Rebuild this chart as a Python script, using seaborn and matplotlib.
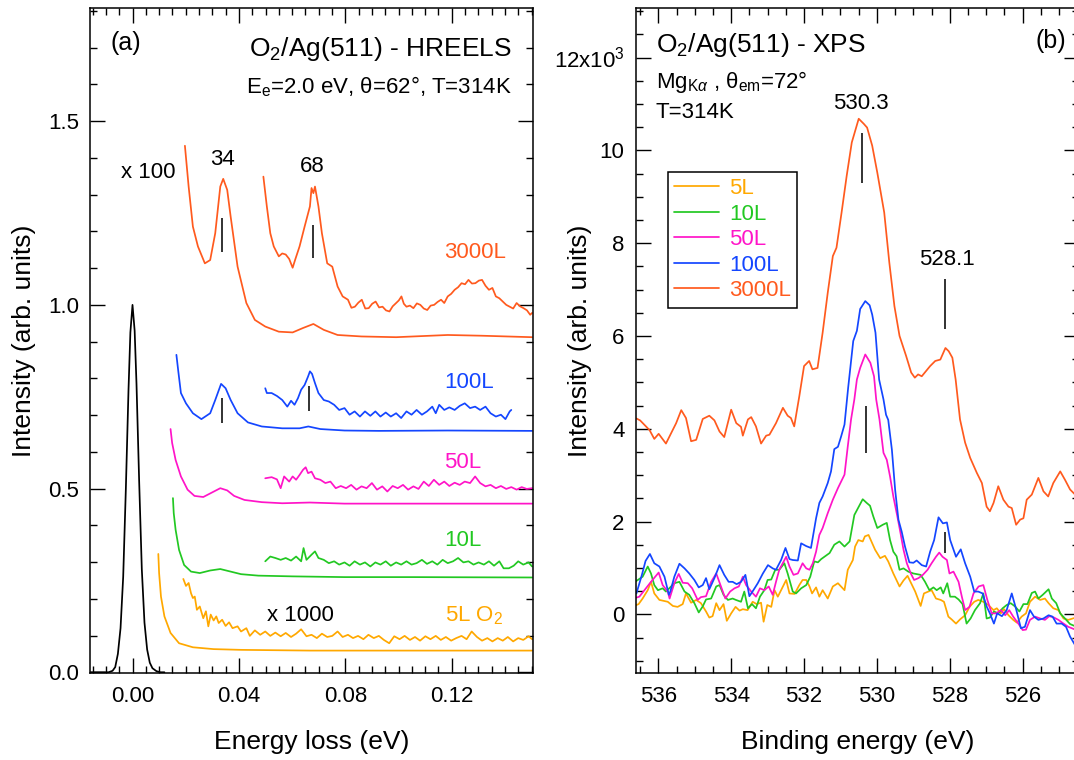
import numpy as np
import pandas as pd
import matplotlib
matplotlib.use("Agg")
import matplotlib.pyplot as plt
from matplotlib.ticker import MultipleLocator, FixedLocator, FixedFormatter, FormatStrFormatter
import seaborn as sns

# ---------------- HREELS spectra, (energy loss [eV], intensity) ----------------
elastic = [(-0.0160, 0.000), (-0.0090, 0.000), (-0.0075, 0.004), (-0.0065, 0.014), (-0.0055, 0.050),
           (-0.0045, 0.120), (-0.0035, 0.260), (-0.0025, 0.500), (-0.0015, 0.770), (-0.0008, 0.925),
           (0.0000, 1.000), (0.0008, 0.930), (0.0015, 0.785), (0.0025, 0.520), (0.0035, 0.280),
           (0.0045, 0.135), (0.0055, 0.062), (0.0065, 0.026), (0.0075, 0.011), (0.0090, 0.003),
           (0.0105, 0.000), (0.0120, 0.000)]

l3000_x100 = [(0.0197, 1.433), (0.0211, 1.322), (0.0227, 1.213), (0.0246, 1.159), (0.0272, 1.113),
              (0.0292, 1.122), (0.0311, 1.195), (0.0330, 1.322), (0.0341, 1.343), (0.0356, 1.313),
              (0.0369, 1.240), (0.0395, 1.104), (0.0428, 1.005), (0.0460, 0.959), (0.0499, 0.941),
              (0.0550, 0.927), (0.0602, 0.925), (0.0641, 0.937), (0.0680, 0.948), (0.0719, 0.932),
              (0.0771, 0.918), (0.0861, 0.914), (0.0991, 0.912), (0.1185, 0.918), (0.1314, 0.916),
              (0.1502, 0.912)]

l3000_x1000 = [(0.0492, 1.349), (0.0505, 1.268), (0.0518, 1.195), (0.0531, 1.159), (0.0550, 1.132),
               (0.0563, 1.140), (0.0576, 1.137), (0.0589, 1.125), (0.0602, 1.101), (0.0612, 1.124),
               (0.0628, 1.159), (0.0647, 1.213), (0.0667, 1.268), (0.0673, 1.318), (0.0680, 1.304),
               (0.0686, 1.322), (0.0699, 1.268), (0.0712, 1.195), (0.0732, 1.113), (0.0751, 1.104),
               (0.0771, 1.050), (0.0790, 1.023), (0.0810, 1.014), (0.0823, 0.992), (0.0836, 0.995),
               (0.0849, 1.006), (0.0862, 1.014), (0.0875, 0.990), (0.0888, 0.991), (0.0901, 1.003),
               (0.0914, 1.009), (0.0927, 0.993), (0.0940, 0.995), (0.0953, 0.985), (0.0966, 0.982),
               (0.0978, 0.996), (0.0991, 1.005), (0.1001, 1.012), (0.1011, 1.023), (0.1020, 1.003),
               (0.1030, 0.995), (0.1043, 0.998), (0.1056, 0.991), (0.1069, 1.004), (0.1082, 1.000),
               (0.1095, 0.990), (0.1108, 0.986), (0.1121, 0.998), (0.1134, 1.000), (0.1147, 1.008),
               (0.1160, 1.014), (0.1172, 1.005), (0.1185, 1.023), (0.1198, 1.030), (0.1211, 1.041),
               (0.1224, 1.048), (0.1237, 1.059), (0.1250, 1.056), (0.1263, 1.068), (0.1276, 1.058),
               (0.1289, 1.059), (0.1302, 1.066), (0.1314, 1.068), (0.1327, 1.052), (0.1340, 1.041),
               (0.1353, 1.046), (0.1366, 1.023), (0.1379, 1.018), (0.1392, 1.009), (0.1405, 1.000),
               (0.1418, 0.995), (0.1431, 0.990), (0.1444, 1.005), (0.1457, 0.996), (0.1470, 0.991),
               (0.1483, 0.985), (0.1495, 0.973), (0.1502, 0.978)]

l100_x100 = [(0.0165, 0.864), (0.0172, 0.820), (0.0182, 0.760), (0.0201, 0.732), (0.0227, 0.705),
             (0.0259, 0.689), (0.0292, 0.705), (0.0311, 0.741), (0.0333, 0.785), (0.0350, 0.773),
             (0.0369, 0.741), (0.0395, 0.705), (0.0434, 0.680), (0.0486, 0.669), (0.0563, 0.664),
             (0.0628, 0.664), (0.0661, 0.669), (0.0706, 0.662), (0.0797, 0.658), (0.0926, 0.657),
             (0.1185, 0.658), (0.1502, 0.657)]

l100_x1000 = [(0.0499, 0.773), (0.0505, 0.760), (0.0523, 0.760), (0.0543, 0.752), (0.0563, 0.741),
              (0.0582, 0.723), (0.0596, 0.739), (0.0609, 0.728), (0.0622, 0.746), (0.0634, 0.769),
              (0.0647, 0.782), (0.0660, 0.805), (0.0667, 0.819), (0.0675, 0.812), (0.0686, 0.787),
              (0.0699, 0.760), (0.0719, 0.741), (0.0738, 0.737), (0.0758, 0.728), (0.0777, 0.714),
              (0.0797, 0.719), (0.0816, 0.701), (0.0835, 0.710), (0.0855, 0.696), (0.0874, 0.710),
              (0.0894, 0.698), (0.0913, 0.710), (0.0932, 0.696), (0.0952, 0.707), (0.0971, 0.696),
              (0.0991, 0.705), (0.1010, 0.692), (0.1030, 0.710), (0.1049, 0.701), (0.1068, 0.714),
              (0.1088, 0.701), (0.1107, 0.710), (0.1127, 0.723), (0.1140, 0.705), (0.1153, 0.728),
              (0.1172, 0.714), (0.1191, 0.721), (0.1211, 0.714), (0.1230, 0.725), (0.1249, 0.732),
              (0.1269, 0.719), (0.1288, 0.723), (0.1307, 0.714), (0.1327, 0.723), (0.1346, 0.705),
              (0.1366, 0.696), (0.1385, 0.701), (0.1402, 0.689), (0.1418, 0.710), (0.1424, 0.714)]

l50_x100 = [(0.0143, 0.662), (0.0149, 0.624), (0.0162, 0.578), (0.0182, 0.533), (0.0207, 0.497),
            (0.0233, 0.480), (0.0266, 0.477), (0.0298, 0.489), (0.0330, 0.501), (0.0356, 0.495),
            (0.0382, 0.480), (0.0421, 0.469), (0.0486, 0.463), (0.0563, 0.460), (0.0667, 0.462),
            (0.0797, 0.459), (0.1056, 0.459), (0.1502, 0.459)]

l50_x1000 = [(0.0499, 0.528), (0.0523, 0.531), (0.0543, 0.525), (0.0557, 0.501), (0.0570, 0.533),
             (0.0589, 0.519), (0.0602, 0.533), (0.0615, 0.524), (0.0628, 0.537), (0.0641, 0.551),
             (0.0651, 0.558), (0.0660, 0.542), (0.0673, 0.546), (0.0686, 0.528), (0.0706, 0.524),
             (0.0725, 0.515), (0.0744, 0.519), (0.0764, 0.501), (0.0783, 0.507), (0.0803, 0.501),
             (0.0822, 0.510), (0.0842, 0.497), (0.0861, 0.506), (0.0880, 0.501), (0.0900, 0.515),
             (0.0919, 0.497), (0.0939, 0.506), (0.0958, 0.492), (0.0978, 0.507), (0.0997, 0.501),
             (0.1017, 0.510), (0.1036, 0.497), (0.1056, 0.506), (0.1075, 0.499), (0.1095, 0.519),
             (0.1114, 0.507), (0.1133, 0.524), (0.1153, 0.510), (0.1172, 0.519), (0.1191, 0.507),
             (0.1211, 0.516), (0.1230, 0.510), (0.1249, 0.519), (0.1269, 0.515), (0.1288, 0.533),
             (0.1307, 0.515), (0.1327, 0.506), (0.1346, 0.510), (0.1366, 0.501), (0.1385, 0.507),
             (0.1405, 0.499), (0.1424, 0.504), (0.1444, 0.497), (0.1463, 0.504), (0.1482, 0.499),
             (0.1502, 0.501)]

l10_x100 = [(0.0152, 0.474), (0.0155, 0.433), (0.0162, 0.388), (0.0175, 0.333), (0.0194, 0.292),
            (0.0220, 0.274), (0.0253, 0.270), (0.0292, 0.277), (0.0330, 0.281), (0.0369, 0.274),
            (0.0408, 0.267), (0.0473, 0.263), (0.0602, 0.261), (0.0797, 0.259), (0.1056, 0.259),
            (0.1502, 0.258)]

l10_x1000 = [(0.0499, 0.302), (0.0518, 0.315), (0.0537, 0.311), (0.0557, 0.306), (0.0576, 0.311),
             (0.0596, 0.304), (0.0615, 0.315), (0.0634, 0.302), (0.0643, 0.338), (0.0654, 0.306),
             (0.0673, 0.320), (0.0686, 0.329), (0.0699, 0.311), (0.0719, 0.306), (0.0738, 0.297),
             (0.0758, 0.302), (0.0777, 0.293), (0.0797, 0.299), (0.0816, 0.290), (0.0835, 0.302),
             (0.0855, 0.293), (0.0874, 0.299), (0.0894, 0.288), (0.0913, 0.299), (0.0932, 0.293),
             (0.0952, 0.302), (0.0971, 0.290), (0.0991, 0.299), (0.1010, 0.293), (0.1030, 0.302),
             (0.1049, 0.293), (0.1068, 0.297), (0.1088, 0.306), (0.1107, 0.295), (0.1127, 0.302),
             (0.1146, 0.293), (0.1166, 0.306), (0.1185, 0.297), (0.1205, 0.302), (0.1224, 0.311),
             (0.1244, 0.299), (0.1263, 0.302), (0.1282, 0.293), (0.1301, 0.299), (0.1321, 0.293),
             (0.1340, 0.302), (0.1359, 0.290), (0.1379, 0.302), (0.1395, 0.283), (0.1415, 0.283),
             (0.1433, 0.290), (0.1450, 0.302), (0.1469, 0.293), (0.1489, 0.299), (0.1502, 0.288)]

l5_x100 = [(0.0097, 0.322), (0.0100, 0.270), (0.0107, 0.206), (0.0120, 0.152), (0.0143, 0.107),
           (0.0175, 0.079), (0.0227, 0.068), (0.0305, 0.063), (0.0408, 0.061), (0.0667, 0.059),
           (0.1056, 0.059), (0.1502, 0.059)]

l5_x1000 = [(0.0191, 0.254), (0.0201, 0.235), (0.0211, 0.243), (0.0220, 0.215), (0.0227, 0.202),
            (0.0234, 0.206), (0.0242, 0.170), (0.0253, 0.179), (0.0266, 0.147), (0.0276, 0.166),
            (0.0285, 0.125), (0.0294, 0.157), (0.0305, 0.141), (0.0315, 0.152), (0.0324, 0.134),
            (0.0337, 0.143), (0.0350, 0.126), (0.0363, 0.136), (0.0376, 0.120), (0.0395, 0.125),
            (0.0408, 0.111), (0.0428, 0.120), (0.0441, 0.099), (0.0460, 0.114), (0.0480, 0.102),
            (0.0499, 0.111), (0.0518, 0.099), (0.0537, 0.108), (0.0557, 0.098), (0.0576, 0.107),
            (0.0596, 0.096), (0.0615, 0.105), (0.0634, 0.117), (0.0654, 0.098), (0.0673, 0.102),
            (0.0693, 0.093), (0.0712, 0.105), (0.0732, 0.096), (0.0751, 0.099), (0.0771, 0.111),
            (0.0790, 0.096), (0.0810, 0.102), (0.0829, 0.093), (0.0848, 0.099), (0.0868, 0.090),
            (0.0887, 0.102), (0.0907, 0.093), (0.0926, 0.099), (0.0945, 0.088), (0.0965, 0.079),
            (0.0984, 0.098), (0.1004, 0.090), (0.1023, 0.099), (0.1043, 0.088), (0.1062, 0.096),
            (0.1081, 0.086), (0.1101, 0.098), (0.1120, 0.090), (0.1140, 0.099), (0.1159, 0.088),
            (0.1178, 0.096), (0.1198, 0.086), (0.1217, 0.093), (0.1237, 0.099), (0.1256, 0.090),
            (0.1275, 0.111), (0.1295, 0.096), (0.1314, 0.086), (0.1334, 0.093), (0.1353, 0.084),
            (0.1373, 0.093), (0.1392, 0.086), (0.1411, 0.096), (0.1431, 0.084), (0.1450, 0.093),
            (0.1469, 0.088), (0.1489, 0.098), (0.1502, 0.090)]

# ---------------- O 1s XPS spectra, (binding energy [eV], counts / 1e3) ----------------
xps_5L = [(536.60, 0.20), (536.54, 0.22), (536.43, 0.34), (536.29, 0.52), (536.20, 0.70), (536.11, 0.45),
          (535.97, 0.31), (535.74, 0.27), (535.60, 0.18), (535.47, 0.16), (535.33, 0.22), (535.24, 0.45),
          (535.10, 0.25), (534.96, 0.31), (534.83, 0.24), (534.69, 0.06), (534.60, -0.07), (534.51, -0.04),
          (534.41, 0.24), (534.32, 0.09), (534.21, 0.22), (534.12, -0.14), (534.00, 0.02), (533.88, 0.16),
          (533.77, 0.08), (533.68, 0.11), (533.55, 0.09), (533.41, 0.27), (533.30, 0.22), (533.18, 0.25),
          (533.11, -0.16), (533.01, 0.20), (532.90, 0.16), (532.81, 0.52), (532.72, 0.38), (532.63, 0.52),
          (532.49, 0.74), (532.40, 0.45), (532.26, 0.44), (532.13, 0.63), (532.04, 0.74), (531.94, 0.74),
          (531.85, 0.60), (531.78, 0.45), (531.67, 0.58), (531.58, 0.38), (531.49, 0.52), (531.35, 0.34),
          (531.21, 0.60), (531.07, 0.67), (530.89, 0.52), (530.80, 0.96), (530.66, 1.17), (530.60, 1.46),
          (530.51, 1.60), (530.39, 1.57), (530.33, 1.68), (530.23, 1.71), (530.14, 1.55), (530.05, 1.39),
          (529.91, 1.21), (529.78, 1.26), (529.69, 1.14), (529.55, 0.88), (529.38, 0.60), (529.27, 0.73),
          (529.16, 0.83), (528.95, 0.49), (528.80, 0.18), (528.71, 0.45), (528.59, 0.49), (528.50, 0.52),
          (528.38, 0.34), (528.25, 0.31), (528.16, 0.27), (528.04, -0.05), (527.95, -0.11), (527.83, -0.20),
          (527.72, -0.11), (527.58, -0.02), (527.46, 0.16), (527.33, 0.27), (527.22, 0.31), (527.08, 0.27),
          (526.94, 0.20), (526.80, 0.09), (526.71, 0.13), (526.60, 0.02), (526.51, 0.11), (526.39, -0.02),
          (526.26, -0.12), (526.16, -0.18), (526.03, -0.05), (525.91, 0.02), (525.80, 0.27), (525.66, 0.38),
          (525.52, 0.31), (525.39, 0.34), (525.29, 0.24), (525.16, 0.13), (525.02, 0.09), (524.88, -0.09),
          (524.75, -0.12), (524.46, -0.05)]

xps_10L = [(536.60, 0.72), (536.43, 0.81), (536.29, 1.03), (536.20, 0.88), (536.11, 0.63), (536.01, 0.52),
           (535.88, 0.56), (535.79, 0.49), (535.56, 0.67), (535.42, 0.70), (535.28, 0.49), (535.15, 0.42),
           (535.01, 0.24), (534.89, 0.04), (534.78, 0.17), (534.69, 0.32), (534.55, 0.34), (534.41, 0.60),
           (534.32, 0.63), (534.21, 0.42), (534.09, 0.31), (533.96, 0.34), (533.87, 0.31), (533.73, 0.27),
           (533.64, 0.49), (533.54, 0.13), (533.43, 0.22), (533.32, 0.13), (533.21, 0.38), (533.09, 0.52),
           (533.00, 0.74), (532.90, 0.75), (532.79, 0.96), (532.68, 0.96), (532.54, 1.10), (532.45, 0.88),
           (532.31, 0.49), (532.22, 0.45), (532.08, 0.56), (531.94, 0.63), (531.83, 0.81), (531.72, 1.14),
           (531.62, 1.12), (531.53, 1.19), (531.30, 1.32), (531.17, 1.50), (531.03, 1.57), (530.89, 1.46),
           (530.75, 1.57), (530.62, 2.14), (530.39, 2.48), (530.28, 2.40), (530.19, 2.34), (530.10, 2.11),
           (529.99, 1.86), (529.84, 1.93), (529.73, 1.97), (529.64, 1.60), (529.55, 1.35), (529.46, 1.25),
           (529.38, 0.96), (529.27, 0.99), (529.14, 0.92), (529.00, 0.88), (528.80, 0.85), (528.68, 0.70),
           (528.56, 0.52), (528.45, 0.58), (528.36, 0.52), (528.25, 0.58), (528.18, 0.45), (528.07, 0.67),
           (527.99, 0.38), (527.86, 0.38), (527.76, 0.32), (527.65, 0.22), (527.54, -0.20), (527.43, -0.09),
           (527.31, 0.09), (527.17, 0.24), (527.08, 0.45), (526.99, -0.09), (526.90, -0.07), (526.79, 0.06),
           (526.67, 0.02), (526.55, 0.13), (526.44, 0.20), (526.33, 0.24), (526.21, 0.17), (526.09, 0.06),
           (525.98, 0.22), (525.87, 0.22), (525.75, 0.46), (525.66, 0.49), (525.57, 0.34), (525.45, 0.42),
           (525.29, 0.54), (525.20, 0.34), (525.08, 0.24), (524.97, 0.02), (524.84, -0.09), (524.70, -0.21),
           (524.46, -0.29)]

xps_50L = [(536.60, 0.36), (536.52, 0.38), (536.38, 0.52), (536.20, 0.70), (535.99, 0.90), (535.88, 0.63),
           (535.74, 0.49), (535.69, 0.34), (535.56, 0.67), (535.44, 0.87), (535.33, 0.68), (535.19, 0.67),
           (535.07, 0.56), (534.92, 0.31), (534.83, 0.37), (534.69, 0.39), (534.55, 0.70), (534.41, 0.88),
           (534.28, 0.60), (534.16, 0.34), (534.03, 0.49), (533.91, 0.56), (533.79, 0.60), (533.68, 0.81),
           (533.59, 0.63), (533.45, 0.49), (533.32, 0.38), (533.21, 0.56), (533.09, 0.52), (532.97, 0.60),
           (532.86, 0.42), (532.77, 0.70), (532.68, 0.96), (532.49, 1.24), (532.40, 1.03), (532.29, 0.85),
           (532.17, 0.88), (532.04, 1.10), (531.94, 0.99), (531.85, 0.96), (531.76, 1.10), (531.67, 1.35),
           (531.58, 1.71), (531.49, 1.86), (531.35, 2.18), (531.21, 2.47), (531.07, 2.72), (530.89, 3.01),
           (530.80, 3.62), (530.71, 4.20), (530.62, 4.63), (530.55, 5.06), (530.46, 5.31), (530.32, 5.60),
           (530.18, 5.42), (530.08, 5.13), (530.02, 4.63), (529.93, 4.20), (529.82, 3.48), (529.73, 3.33),
           (529.64, 2.97), (529.55, 2.54), (529.44, 2.11), (529.36, 1.78), (529.27, 1.39), (529.18, 1.10),
           (529.07, 0.88), (528.98, 0.74), (528.86, 0.78), (528.74, 0.85), (528.61, 0.96), (528.50, 1.10),
           (528.38, 1.24), (528.29, 1.33), (528.20, 1.24), (528.08, 1.17), (528.01, 0.88), (527.90, 0.92),
           (527.76, 0.70), (527.67, 0.38), (527.58, 0.09), (527.46, 0.16), (527.35, 0.45), (527.21, 0.60),
           (527.08, 0.63), (526.97, 0.31), (526.85, 0.02), (526.73, 0.02), (526.60, 0.09), (526.48, -0.02),
           (526.37, 0.09), (526.26, -0.05), (526.12, -0.20), (526.00, -0.34), (525.91, -0.33), (525.80, -0.12),
           (525.66, -0.05), (525.52, -0.09), (525.39, -0.12), (525.27, -0.04), (525.14, -0.07), (525.02, -0.12),
           (524.88, -0.20), (524.75, -0.27), (524.46, -0.36)]

xps_100L = [(536.60, 0.45), (536.45, 0.85), (536.35, 1.15), (536.23, 1.30), (536.11, 1.10), (535.97, 1.03),
            (535.83, 0.81), (535.71, 0.42), (535.67, 0.49), (535.56, 0.81), (535.42, 1.09), (535.28, 0.99),
            (535.15, 0.88), (535.01, 0.74), (534.89, 0.58), (534.78, 0.63), (534.69, 0.78), (534.60, 0.54),
            (534.46, 0.78), (534.32, 1.06), (534.19, 0.85), (534.07, 0.70), (533.96, 0.70), (533.85, 0.65),
            (533.73, 0.70), (533.61, 0.85), (533.50, 0.39), (533.39, 0.52), (533.27, 0.67), (533.13, 0.88),
            (532.99, 1.06), (532.86, 0.99), (532.77, 0.96), (532.63, 1.17), (532.51, 1.43), (532.40, 1.19),
            (532.31, 1.17), (532.17, 1.16), (532.08, 1.53), (531.94, 1.47), (531.81, 1.43), (531.67, 2.07),
            (531.58, 2.40), (531.49, 2.54), (531.35, 2.83), (531.26, 3.08), (531.17, 3.56), (531.07, 3.61),
            (530.98, 3.84), (530.89, 4.09), (530.79, 4.88), (530.65, 5.89), (530.55, 6.11), (530.46, 6.58),
            (530.32, 6.75), (530.20, 6.66), (530.13, 6.46), (530.04, 6.07), (529.94, 5.06), (529.82, 4.63),
            (529.75, 4.30), (529.69, 4.19), (529.59, 3.55), (529.50, 2.68), (529.41, 2.04), (529.32, 1.78),
            (529.23, 1.46), (529.11, 1.12), (529.00, 1.11), (528.91, 1.16), (528.77, 1.06), (528.65, 1.03),
            (528.54, 1.35), (528.43, 1.60), (528.31, 2.09), (528.19, 1.96), (528.08, 1.98), (527.99, 1.60),
            (527.83, 1.24), (527.70, 1.40), (527.58, 1.10), (527.44, 0.81), (527.33, 0.49), (527.22, 0.49),
            (527.10, 0.45), (526.99, 0.17), (526.90, 0.02), (526.79, -0.20), (526.70, 0.02), (526.57, -0.04),
            (526.44, 0.09), (526.30, 0.45), (526.18, 0.11), (526.05, -0.30), (525.94, -0.27), (525.80, 0.09),
            (525.69, -0.05), (525.57, -0.12), (525.43, -0.09), (525.29, -0.02), (525.18, -0.05), (525.07, -0.20),
            (524.93, -0.20), (524.81, -0.27), (524.70, -0.48), (524.46, -0.80)]

xps_3000L = [(536.60, 4.22), (536.50, 4.18), (536.24, 3.97), (536.11, 3.78), (535.99, 3.89), (535.79, 3.68),
             (535.51, 4.12), (535.37, 4.40), (535.24, 4.23), (535.10, 3.73), (534.96, 3.76), (534.78, 4.21),
             (534.60, 4.28), (534.46, 4.18), (534.32, 3.94), (534.19, 3.82), (534.00, 4.41), (533.86, 4.12),
             (533.73, 4.04), (533.68, 3.85), (533.54, 4.20), (533.45, 4.25), (533.32, 4.05), (533.18, 3.68),
             (533.04, 3.85), (532.95, 3.87), (532.77, 4.12), (532.58, 4.45), (532.45, 4.28), (532.36, 4.23),
             (532.27, 4.05), (532.13, 4.70), (532.00, 5.35), (531.86, 5.46), (531.77, 5.28), (531.63, 5.31),
             (531.49, 6.07), (531.35, 6.93), (531.21, 7.72), (531.11, 7.90), (530.97, 8.66), (530.83, 9.45),
             (530.69, 10.17), (530.50, 10.68), (530.36, 10.57), (530.27, 10.49), (530.13, 10.10), (529.99, 9.52),
             (529.80, 8.66), (529.66, 7.58), (529.52, 6.64), (529.38, 6.00), (529.20, 5.57), (529.06, 5.21),
             (528.96, 5.10), (528.87, 5.17), (528.77, 5.13), (528.54, 5.35), (528.40, 5.46), (528.26, 5.49),
             (528.12, 5.74), (528.03, 5.67), (527.93, 5.53), (527.84, 5.06), (527.72, 4.20), (527.58, 3.70),
             (527.44, 3.37), (527.26, 3.05), (527.12, 2.83), (526.99, 2.32), (526.90, 2.22), (526.80, 2.40),
             (526.67, 2.76), (526.53, 2.47), (526.39, 2.32), (526.30, 2.29), (526.18, 1.93), (526.07, 2.04),
             (525.98, 2.07), (525.89, 2.47), (525.75, 2.58), (525.57, 2.94), (525.43, 2.65), (525.30, 2.54),
             (525.16, 2.83), (524.97, 3.08), (524.84, 2.90), (524.70, 2.69), (524.46, 2.50)]

# peak markers: (position, y_low, y_high)
hreels_marks = [(0.0337, 1.145, 1.236), (0.0680, 1.127, 1.218), (0.0337, 0.678, 0.746), (0.0663, 0.712, 0.778)]
xps_marks = [(530.41, 9.29, 10.37), (530.30, 3.47, 4.48), (528.12, 6.14, 7.22), (528.13, 1.32, 1.78)]

coverage_labels = ["5L", "10L", "50L", "100L", "3000L"]
coverage_colors = ["#FFA800", "#22C822", "#FF14C8", "#1446FF", "#FF5A1E"]

# ---------------- styling ----------------
sns.set_style("ticks", rc={"axes.edgecolor": "black", "xtick.color": "black", "ytick.color": "black",
                           "text.color": "black", "axes.labelcolor": "black"})
plt.rcParams["font.family"] = ["Liberation Sans", "DejaVu Sans"]
plt.rcParams["mathtext.fontset"] = "custom"
plt.rcParams["mathtext.rm"] = "Liberation Sans"
plt.rcParams["mathtext.it"] = "Liberation Sans:italic"
plt.rcParams["mathtext.bf"] = "Liberation Sans:bold"
plt.rcParams["mathtext.sf"] = "Liberation Sans"

fig = plt.figure(figsize=(10.74, 7.6), dpi=100)
ax_a = fig.add_axes([90 / 1074, 87 / 760, 443 / 1074, 665 / 760])
ax_b = fig.add_axes([635.7 / 1074, 87 / 760, 443 / 1074, 665 / 760])

LW = 1.25


def trace(ax, pts, color, label=None):
    arr = np.asarray(pts, dtype=float)
    df = pd.DataFrame({"x": arr[:, 0], "y": arr[:, 1]})
    sns.lineplot(data=df, x="x", y="y", ax=ax, color=color, linewidth=LW,
                 sort=False, estimator=None, label=label, legend=False)


# ---- panel (a): HREELS ----
trace(ax_a, elastic, "black")
c5, c10, c50, c100, c3000 = coverage_colors
for pts, col in [(l5_x100, c5), (l5_x1000, c5), (l10_x100, c10), (l10_x1000, c10),
                 (l50_x100, c50), (l50_x1000, c50), (l100_x100, c100), (l100_x1000, c100),
                 (l3000_x100, c3000), (l3000_x1000, c3000)]:
    trace(ax_a, pts, col)

for xm, y0, y1 in hreels_marks:
    ax_a.vlines(xm, y0, y1, color="#222222", lw=1.3)

ax_a.set_xlim(-0.01598, 0.15056)
ax_a.set_ylim(-0.002, 1.808)
ax_a.xaxis.set_major_locator(FixedLocator([0.0, 0.04, 0.08, 0.12]))
ax_a.xaxis.set_major_formatter(FormatStrFormatter("%.2f"))
ax_a.xaxis.set_minor_locator(MultipleLocator(0.005))
ax_a.yaxis.set_major_locator(FixedLocator([0.0, 0.5, 1.0, 1.5]))
ax_a.yaxis.set_major_formatter(FormatStrFormatter("%.1f"))
ax_a.yaxis.set_minor_locator(MultipleLocator(0.1))

ax_a.text(0.0806, 0.948, "(a)", transform=ax_a.transAxes, ha="center", va="center", fontsize=18)
ax_a.text(0.9526, 0.928, "O$_2$/Ag(511) - HREELS", transform=ax_a.transAxes,
          ha="right", va="baseline", fontsize=19)
ax_a.text(0.9526, 0.872, "E$_\\mathrm{e}$=2.0 eV, θ=62°, T=314K", transform=ax_a.transAxes,
          ha="right", va="baseline", fontsize=16)
ax_a.text(0.0058, 1.359, "x 100", ha="center", va="center", fontsize=16)
ax_a.text(0.0337, 1.395, "34", ha="center", va="center", fontsize=16)
ax_a.text(0.0674, 1.376, "68", ha="center", va="center", fontsize=16)
ax_a.text(0.063, 0.154, "x 1000", ha="center", va="center", fontsize=16)
for txt, yb, col in [("3000L", 1.127, c3000), ("100L", 0.773, c100), ("50L", 0.556, c50),
                     ("10L", 0.345, c10), ("5L O$_2$", 0.138, c5)]:
    ax_a.text(0.1173, yb, txt, color=col, ha="left", va="baseline", fontsize=16)

ax_a.set_xlabel("Energy loss (eV)", fontsize=19)
ax_a.set_ylabel("Intensity (arb. units)", fontsize=19)

# ---- panel (b): XPS ----
for pts, lab, col in zip([xps_5L, xps_10L, xps_50L, xps_100L, xps_3000L], coverage_labels, coverage_colors):
    trace(ax_b, pts, col, label=lab)

for xm, y0, y1 in xps_marks:
    ax_b.vlines(xm, y0, y1, color="#222222", lw=1.3)

ax_b.set_xlim(536.62, 536.62 - 443 / 36.44)
ax_b.set_ylim(-1.265, 13.067)
ax_b.xaxis.set_major_locator(FixedLocator([536, 534, 532, 530, 528, 526]))
ax_b.xaxis.set_major_formatter(FormatStrFormatter("%d"))
ax_b.xaxis.set_minor_locator(MultipleLocator(0.5))
ax_b.yaxis.set_major_locator(FixedLocator([0, 2, 4, 6, 8, 10, 12]))
ax_b.yaxis.set_major_formatter(FixedFormatter(["0", "2", "4", "6", "8", "10", "12x10$^3$"]))
ax_b.yaxis.set_minor_locator(MultipleLocator(0.5))

ax_b.text(0.0458, 0.934, "O$_2$/Ag(511) - XPS", transform=ax_b.transAxes,
          ha="left", va="baseline", fontsize=19)
ax_b.text(0.9713, 0.951, "(b)", transform=ax_b.transAxes, ha="right", va="center", fontsize=18)
ax_b.text(0.0458, 0.879, "Mg$_{\\mathrm{K}α}$ , θ$_{\\mathrm{em}}$=72°", transform=ax_b.transAxes,
          ha="left", va="baseline", fontsize=16)
ax_b.text(0.0458, 0.834, "T=314K", transform=ax_b.transAxes, ha="left", va="baseline", fontsize=16)
ax_b.text(530.43, 11.0, "530.3", ha="center", va="center", fontsize=16)
ax_b.text(528.09, 7.65, "528.1", ha="center", va="center", fontsize=16)

leg = ax_b.legend(loc="upper left", bbox_to_anchor=(0.0722, 0.754), borderaxespad=0,
                  fontsize=16, handlelength=2.0, handletextpad=0.45, borderpad=0.3,
                  labelspacing=0.2, frameon=True, fancybox=False, framealpha=1,
                  edgecolor="black", labelcolor="linecolor")
leg.get_frame().set_linewidth(1.1)

ax_b.set_xlabel("Binding energy (eV)", fontsize=19)
ax_b.set_ylabel("Intensity (arb. units)", fontsize=19)

# ---- shared axis cosmetics ----
for ax, ylab_x in [(ax_a, -0.149), (ax_b, -0.1257)]:
    for sp in ax.spines.values():
        sp.set_linewidth(1.1)
        sp.set_color("black")
    ax.tick_params(which="both", direction="in", top=True, right=True, bottom=True, left=True,
                   width=1.0, color="black")
    ax.tick_params(which="major", length=11, labelsize=16)
    ax.tick_params(which="minor", length=5)
    ax.tick_params(axis="x", which="major", pad=9)
    ax.tick_params(axis="y", which="major", pad=8)
    ax.xaxis.set_label_coords(0.5, -0.1038)
    ax.xaxis.label.set_va("center")
    ax.yaxis.set_label_coords(ylab_x, 0.5)
    ax.yaxis.label.set_va("center")

fig.savefig("out.png", dpi=100)
